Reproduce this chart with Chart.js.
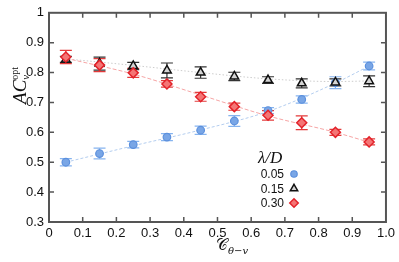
<!DOCTYPE html>
<html>
<head>
<meta charset="utf-8">
<script src="https://cdn.jsdelivr.net/npm/chart.js@4"></script>
<style>
  html, body { margin: 0; padding: 0; background: #fff; }
  #wrap { width: 399px; height: 262px; position: relative; }
  #ytitle {
    position: absolute; left: 10px; top: 60px; height: 50px;
    writing-mode: sideways-lr;
    font-family: "Liberation Serif", serif; color: #111;
    white-space: nowrap; line-height: 20px; text-align: center;
  }
  #ytitle .main { font-size: 19px; font-style: italic; }
  #ytitle .sub { font-size: 11px; font-style: italic; vertical-align: -3px; line-height: 0; }
  #ytitle .sup { font-size: 10px; vertical-align: 8px; line-height: 0; margin-inline-start: -5px; }
</style>
</head>
<body>
<div id="wrap">
  <canvas id="c"></canvas>
  <div id="ytitle"><span class="main">AC</span><span class="sub">v</span><span class="sup">opt</span></div>
</div>
<script>
// data
const xs      = [0.05, 0.15, 0.25, 0.35, 0.45, 0.55, 0.65, 0.75, 0.85, 0.95];
const blueY   = [0.500, 0.529, 0.559, 0.584, 0.607, 0.638, 0.673, 0.710, 0.766, 0.822];
const blueErr = [0.012, 0.018, 0.011, 0.012, 0.014, 0.018, 0.010, 0.012, 0.020, 0.013];
const blackY  = [0.844, 0.830, 0.822, 0.807, 0.800, 0.787, 0.775, 0.764, 0.767, 0.771];
const blackErr= [0.010, 0.022, 0.012, 0.025, 0.019, 0.014, 0.011, 0.015, 0.012, 0.018];
const redY    = [0.852, 0.825, 0.799, 0.762, 0.719, 0.686, 0.657, 0.632, 0.600, 0.568];
const redErr  = [0.022, 0.022, 0.015, 0.011, 0.015, 0.012, 0.016, 0.023, 0.010, 0.010];

// fitted trend lines
const fitX    = [0.05, 0.25, 0.45, 0.65, 0.85, 0.95];
const blueFit = [0.500, 0.555, 0.608, 0.670, 0.765, 0.822];
const blackFit= [0.846, 0.824, 0.800, 0.779, 0.770, 0.772];
const redFit  = [0.848, 0.795, 0.725, 0.655, 0.600, 0.567];

const legendLabels = ['0.05', '0.15', '0.30'];
const xTicks = [0, 0.1, 0.2, 0.3, 0.4, 0.5, 0.6, 0.7, 0.8, 0.9, 1.0];
const yTicks = [0.3, 0.4, 0.5, 0.6, 0.7, 0.8, 0.9, 1.0];

const pts = (x, y) => x.map((v, i) => ({ x: v, y: y[i] }));

const TICK_FONT = { family: '"Liberation Sans", Arial, sans-serif', size: 13 };
const SERIF = '"DejaVu Serif", "Liberation Serif", serif';
const LSERIF = '"Liberation Serif", serif';

const series = [
  { y: redY,   err: redErr,   color: '#e33a3a' },
  { y: blackY, err: blackErr, color: '#333333' },
  { y: blueY,  err: blueErr,  color: '#86b4ef' },
];

const errorBars = {
  id: 'errorBars',
  beforeDatasetsDraw(chart) {
    const { ctx, scales: { x, y } } = chart;
    ctx.save();
    series.slice().reverse().forEach(s => {
      ctx.strokeStyle = s.color;
      ctx.lineWidth = 1.2;
      xs.forEach((xv, i) => {
        const px = x.getPixelForValue(xv);
        const y1 = y.getPixelForValue(s.y[i] + s.err[i]);
        const y2 = y.getPixelForValue(s.y[i] - s.err[i]);
        ctx.beginPath();
        ctx.moveTo(px, y1); ctx.lineTo(px, y2);
        ctx.moveTo(px - 6, y1); ctx.lineTo(px + 6, y1);
        ctx.moveTo(px - 6, y2); ctx.lineTo(px + 6, y2);
        ctx.stroke();
      });
    });
    ctx.restore();
  }
};

const frame = {
  id: 'frame',
  afterDraw(chart) {
    const { ctx, chartArea: a, scales: { x, y } } = chart;
    ctx.save();
    ctx.strokeStyle = '#555';
    ctx.lineWidth = 1.5;
    ctx.beginPath();
    xTicks.slice(1, -1).forEach(v => {
      const px = x.getPixelForValue(v);
      ctx.moveTo(px, a.bottom); ctx.lineTo(px, a.bottom - 5);
      ctx.moveTo(px, a.top); ctx.lineTo(px, a.top + 5);
    });
    yTicks.slice(1, -1).forEach(v => {
      const py = y.getPixelForValue(v);
      ctx.moveTo(a.left, py); ctx.lineTo(a.left + 5, py);
      ctx.moveTo(a.right, py); ctx.lineTo(a.right - 5, py);
    });
    ctx.stroke();
    ctx.lineWidth = 2;
    ctx.strokeRect(a.left, a.top, a.right - a.left, a.bottom - a.top);
    ctx.restore();

    // x title
    ctx.save();
    ctx.fillStyle = '#111';
    ctx.textAlign = 'left';
    ctx.font = '16px ' + SERIF;
    ctx.fillText('𝒞', 216, 250);
    const cw = ctx.measureText('𝒞').width;
    ctx.font = 'italic 10px ' + SERIF;
    ctx.fillText('θ−v', 216 + cw, 254);

    // legend
    ctx.font = 'italic 17px ' + LSERIF;
    ctx.fillText('λ/D', 258, 163);
    ctx.font = '12px "Liberation Sans", Arial, sans-serif';
    ctx.textAlign = 'right';
    legendLabels.forEach((t, i) => ctx.fillText(t, 284, 178 + i * 14.5));
    ctx.restore();

    [2, 1, 0].forEach((di, i) => {
      const ds = chart.data.datasets[di];
      ctx.save();
      ctx.fillStyle = ds.backgroundColor;
      ctx.strokeStyle = ds.borderColor;
      ctx.lineWidth = ds.borderWidth;
      Chart.helpers.drawPoint(ctx, {
        pointStyle: ds.pointStyle,
        radius: ds.pointRadius * 0.85,
        borderWidth: ds.borderWidth
      }, 294, 174 + i * 14.5);
      ctx.restore();
    });
  }
};

new Chart(document.getElementById('c'), {
  type: 'scatter',
  data: {
    datasets: [
      {
        label: '0.30', data: pts(xs, redY), order: 0,
        pointStyle: 'rectRot', pointRadius: 5, pointHoverRadius: 5,
        backgroundColor: '#f47575', borderColor: '#e3222a', borderWidth: 1.5
      },
      {
        label: '0.15', data: pts(xs, blackY), order: 1,
        pointStyle: 'triangle', pointRadius: 5, pointHoverRadius: 5,
        backgroundColor: '#d4d4d4', borderColor: '#111', borderWidth: 1.5
      },
      {
        label: '0.05', data: pts(xs, blueY), order: 2,
        pointStyle: 'circle', pointRadius: 3.8, pointHoverRadius: 3.8,
        backgroundColor: '#79a6e6', borderColor: '#5c90dd', borderWidth: 1.2
      },
      {
        type: 'line', data: pts(fitX, redFit), order: 5, showLine: true,
        borderColor: '#f6a5a5', borderWidth: 1, borderDash: [4, 2],
        pointRadius: 0, tension: 0.4, cubicInterpolationMode: 'monotone'
      },
      {
        type: 'line', data: pts(fitX, blackFit), order: 5, showLine: true,
        borderColor: '#cccccc', borderWidth: 1, borderDash: [1.5, 2],
        pointRadius: 0, tension: 0.4, cubicInterpolationMode: 'monotone'
      },
      {
        type: 'line', data: pts(fitX, blueFit), order: 5, showLine: true,
        borderColor: '#b3cdef', borderWidth: 1, borderDash: [3, 2],
        pointRadius: 0, tension: 0.4, cubicInterpolationMode: 'monotone'
      },
    ]
  },
  options: {
    responsive: true,
    maintainAspectRatio: false,
    animation: false,
    layout: { padding: { top: 9, right: 11, left: 0, bottom: 0 } },
    plugins: { legend: { display: false }, tooltip: { enabled: false } },
    scales: {
      x: {
        type: 'linear', min: 0, max: 1,
        afterBuildTicks: s => { s.ticks = xTicks.map(v => ({ value: v })); },
        afterFit: s => { s.height = 40; },
        ticks: {
          color: '#111', font: TICK_FONT, padding: 4, maxRotation: 0,
          callback: v => v === 0 ? '0' : v.toFixed(1)
        },
        grid: { display: false, drawTicks: false },
        border: { display: false }
      },
      y: {
        type: 'linear', min: 0.3, max: 1,
        afterBuildTicks: s => { s.ticks = yTicks.map(v => ({ value: v })); },
        afterFit: s => { s.width = 49; },
        ticks: {
          color: '#111', font: TICK_FONT, padding: 5,
          callback: v => Math.abs(v - 1) < 1e-9 ? '1' : v.toFixed(1)
        },
        grid: { display: false, drawTicks: false },
        border: { display: false }
      }
    }
  },
  plugins: [errorBars, frame]
});
</script>
</body>
</html>
